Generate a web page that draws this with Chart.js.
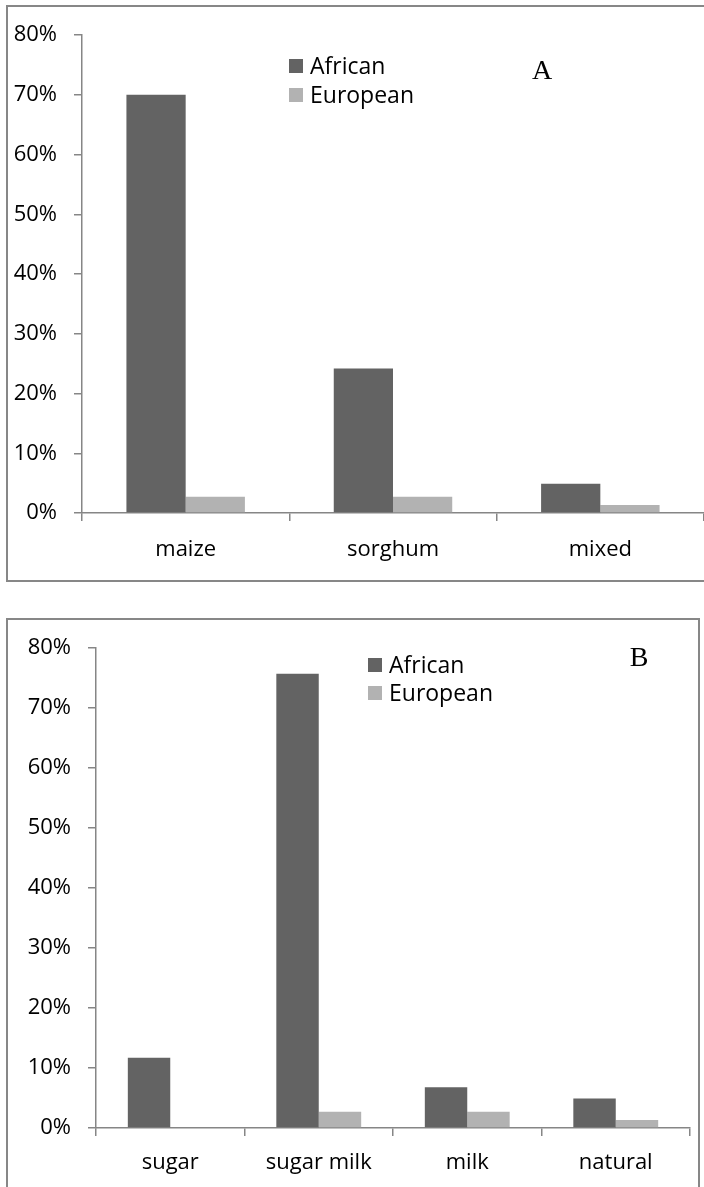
<html>
<head>
<script src="https://cdn.jsdelivr.net/npm/chart.js@4.4.0/dist/chart.umd.min.js"></script>
<style>
  html, body { margin:0; padding:0; background:#fff; overflow:hidden; width:704px; height:1187px; }
  .box { position:absolute; border:2px solid #878787; box-sizing:border-box; }
  canvas { position:absolute; left:0; }
</style>
</head>
<body>

<div class="box" style="left:6px;top:5px;width:702px;height:577px;"></div>
<div class="box" style="left:6px;top:618px;width:694px;height:600px;"></div>
<canvas id="chartA" width="704" height="600" style="top:0px;width:704px;height:600px;"></canvas>
<canvas id="chartB" width="704" height="587" style="top:600px;width:704px;height:587px;"></canvas>

<script>
// series
var seriesNames = ['African', 'European'];
var seriesColors = ['#636363', '#b2b2b2'];

// panel A - type of beer
var grainLabels = ['maize', 'sorghum', 'mixed'];
var grainAfrican = [70, 24.2, 4.9];
var grainEuropean = [2.7, 2.7, 1.35];

// panel B - type of tea
var sweetLabels = ['sugar', 'sugar milk', 'milk', 'natural'];
var sweetAfrican = [11.7, 75.7, 6.8, 4.9];
var sweetEuropean = [0, 2.7, 2.7, 1.35];

// y axis 0..80 in steps of 10
var yMax = 80;
var yStep = 10;

var axisColor = '#868686';

// legend + panel letter drawn inside the chart
var boxLegend = {
  id: 'boxLegend',
  afterDraw: function(chart, args, opts) {
    var ctx = chart.ctx;
    ctx.save();
    ctx.font = '23px "Open Sans"';
    ctx.textBaseline = 'middle';
    ctx.textAlign = 'left';
    chart.data.datasets.forEach(function(ds, i) {
      var y = opts.y + i * opts.gap;
      ctx.fillStyle = ds.backgroundColor;
      ctx.fillRect(opts.x, y - 7, 14, 14);
      ctx.fillStyle = '#000';
      ctx.fillText(ds.label, opts.x + 21, y + 1);
    });
    ctx.font = '28px "Liberation Serif"';
    ctx.textAlign = 'center';
    ctx.fillText(opts.letter, opts.lx, opts.ly);
    ctx.restore();
  }
};

function makeChart(id, labels, african, european, cfg) {
  return new Chart(document.getElementById(id), {
    type: 'bar',
    data: {
      labels: labels,
      datasets: [
        { label: seriesNames[0], data: african, backgroundColor: seriesColors[0] },
        { label: seriesNames[1], data: european, backgroundColor: seriesColors[1] }
      ]
    },
    options: {
      responsive: false,
      animation: false,
      devicePixelRatio: 1,
      categoryPercentage: 2 / 3.5,
      barPercentage: 1,
      layout: { padding: { top: cfg.top, right: cfg.right, left: 0, bottom: 0 } },
      plugins: {
        legend: { display: false },
        tooltip: { enabled: false },
        boxLegend: cfg.legend
      },
      scales: {
        x: {
          grid: { offset: true, drawOnChartArea: false, drawTicks: true, tickLength: 8, color: axisColor, lineWidth: 1.5 },
          border: { color: axisColor, width: 1.5 },
          ticks: { color: '#000', font: { family: 'Open Sans', size: 22 }, padding: cfg.xPad, maxRotation: 0 },
          afterFit: function(s) { s.height = cfg.xHeight; }
        },
        y: {
          min: 0,
          max: yMax,
          grid: { drawOnChartArea: false, drawTicks: true, tickLength: 8, color: axisColor, lineWidth: 1.5 },
          border: { color: axisColor, width: 1.5 },
          ticks: {
            stepSize: yStep,
            color: '#000',
            font: { family: 'Open Sans', size: 22 },
            padding: 17,
            callback: function(v) { return v + '%'; }
          },
          afterFit: function(s) { s.width = cfg.yWidth; }
        }
      }
    },
    plugins: [boxLegend]
  });
}

makeChart('chartA', grainLabels, grainAfrican, grainEuropean, {
  top: 35, right: 0, xHeight: 87, yWidth: 82, xPad: 16,
  legend: { x: 289, y: 66, gap: 29, letter: 'A', lx: 542, ly: 72 }
});

makeChart('chartB', sweetLabels, sweetAfrican, sweetEuropean, {
  top: 48, right: 14, xHeight: 59, yWidth: 96, xPad: 14,
  legend: { x: 368, y: 65, gap: 28, letter: 'B', lx: 639, ly: 59 }
});
</script>
</body>
</html>
